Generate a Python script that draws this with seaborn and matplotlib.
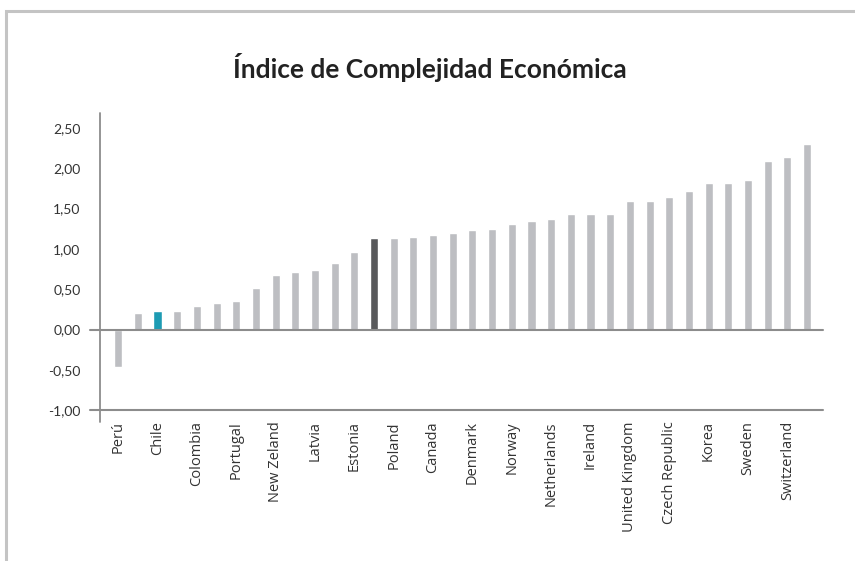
import numpy as np
import pandas as pd
import matplotlib
matplotlib.use("Agg")
import matplotlib.pyplot as plt
import seaborn as sns
from matplotlib.lines import Line2D
from matplotlib.patches import Rectangle

# tick labels (only every other bar is labelled in the source)
labels = ["Perú", "", "Chile", "", "Colombia", "", "Portugal", "", "New Zeland", "",
          "Latvia", "", "Estonia", "", "Poland", "", "Canada", "", "Denmark", "",
          "Norway", "", "Netherlands", "", "Ireland", "", "United Kingdom", "",
          "Czech Republic", "", "Korea", "", "Sweden", "", "Switzerland", ""]

ice = [-0.47, 0.20, 0.23, 0.23, 0.29, 0.33, 0.36, 0.51, 0.68, 0.71,
       0.74, 0.83, 0.96, 1.13, 1.13, 1.15, 1.17, 1.20, 1.23, 1.25,
       1.31, 1.35, 1.37, 1.43, 1.43, 1.43, 1.60, 1.60, 1.65, 1.72,
       1.82, 1.82, 1.85, 2.09, 2.14, 2.30]

highlight_chile = 2
highlight_avg = 13

yticks = [-1.0, -0.5, 0.0, 0.5, 1.0, 1.5, 2.0, 2.5]

df = pd.DataFrame({"pos": np.arange(len(ice)), "ice": ice})

gray = "#bdbec2"
colors = {i: gray for i in df["pos"]}
colors[highlight_chile] = "#1d9bb3"
colors[highlight_avg] = "#58595b"

sns.set_style("white")
plt.rcParams["font.family"] = ["Lato", "DejaVu Sans"]

fig = plt.figure(figsize=(8.55, 5.61), dpi=100)
ax = fig.add_axes([0.117, 0.269, 0.846, 0.530])

sns.barplot(data=df, x="pos", y="ice", hue="pos", palette=colors,
            legend=False, width=0.41, saturation=1, ax=ax)

ax.set_xlim(-0.92, 35.83)
ax.set_ylim(-1.0, 2.69)
ax.set_yticks(yticks)
ax.set_yticklabels([f"{v:.2f}".replace(".", ",") for v in yticks],
                   fontsize=10, color="#333333")
ax.set_xticks(df["pos"])
ax.set_xticklabels(labels, rotation=90, fontsize=10.5, color="#333333",
                   va="top", ha="center", family=["Open Sans", "DejaVu Sans"])
ax.tick_params(axis="y", length=0, pad=14)
ax.tick_params(axis="x", length=0, pad=8)
ax.set_xlabel("")
ax.set_ylabel("")

for s in ["top", "right", "left", "bottom"]:
    ax.spines[s].set_visible(False)

axis_col = "#8c8c8c"
# zero line and bottom line, both poking out to the left of the axis
ax.add_line(Line2D([-0.014, 1.0], [0, 0], transform=ax.get_yaxis_transform(),
                   color=axis_col, lw=1.5, clip_on=False))
ax.add_line(Line2D([-0.014, 1.0], [-1.0, -1.0], transform=ax.get_yaxis_transform(),
                   color=axis_col, lw=1.5, clip_on=False))
# vertical axis line, running a bit below the bottom
ax.add_line(Line2D([0, 0], [-0.04, 1.0], transform=ax.transAxes,
                   color=axis_col, lw=1.3, clip_on=False))

fig.text(0.503, 0.880, "Índice de Complejidad Económica", ha="center", va="center",
         fontsize=19, fontweight="bold", color="#222222")

# light frame around the chart (open on right/bottom edges)
fig.patches.append(Rectangle((5.5 / 855, -0.1), 1.2, 1.1 - 10.5 / 561,
                             transform=fig.transFigure, fill=False,
                             edgecolor="#c4c4c4", lw=2.2))

fig.savefig("out.png", dpi=100)
